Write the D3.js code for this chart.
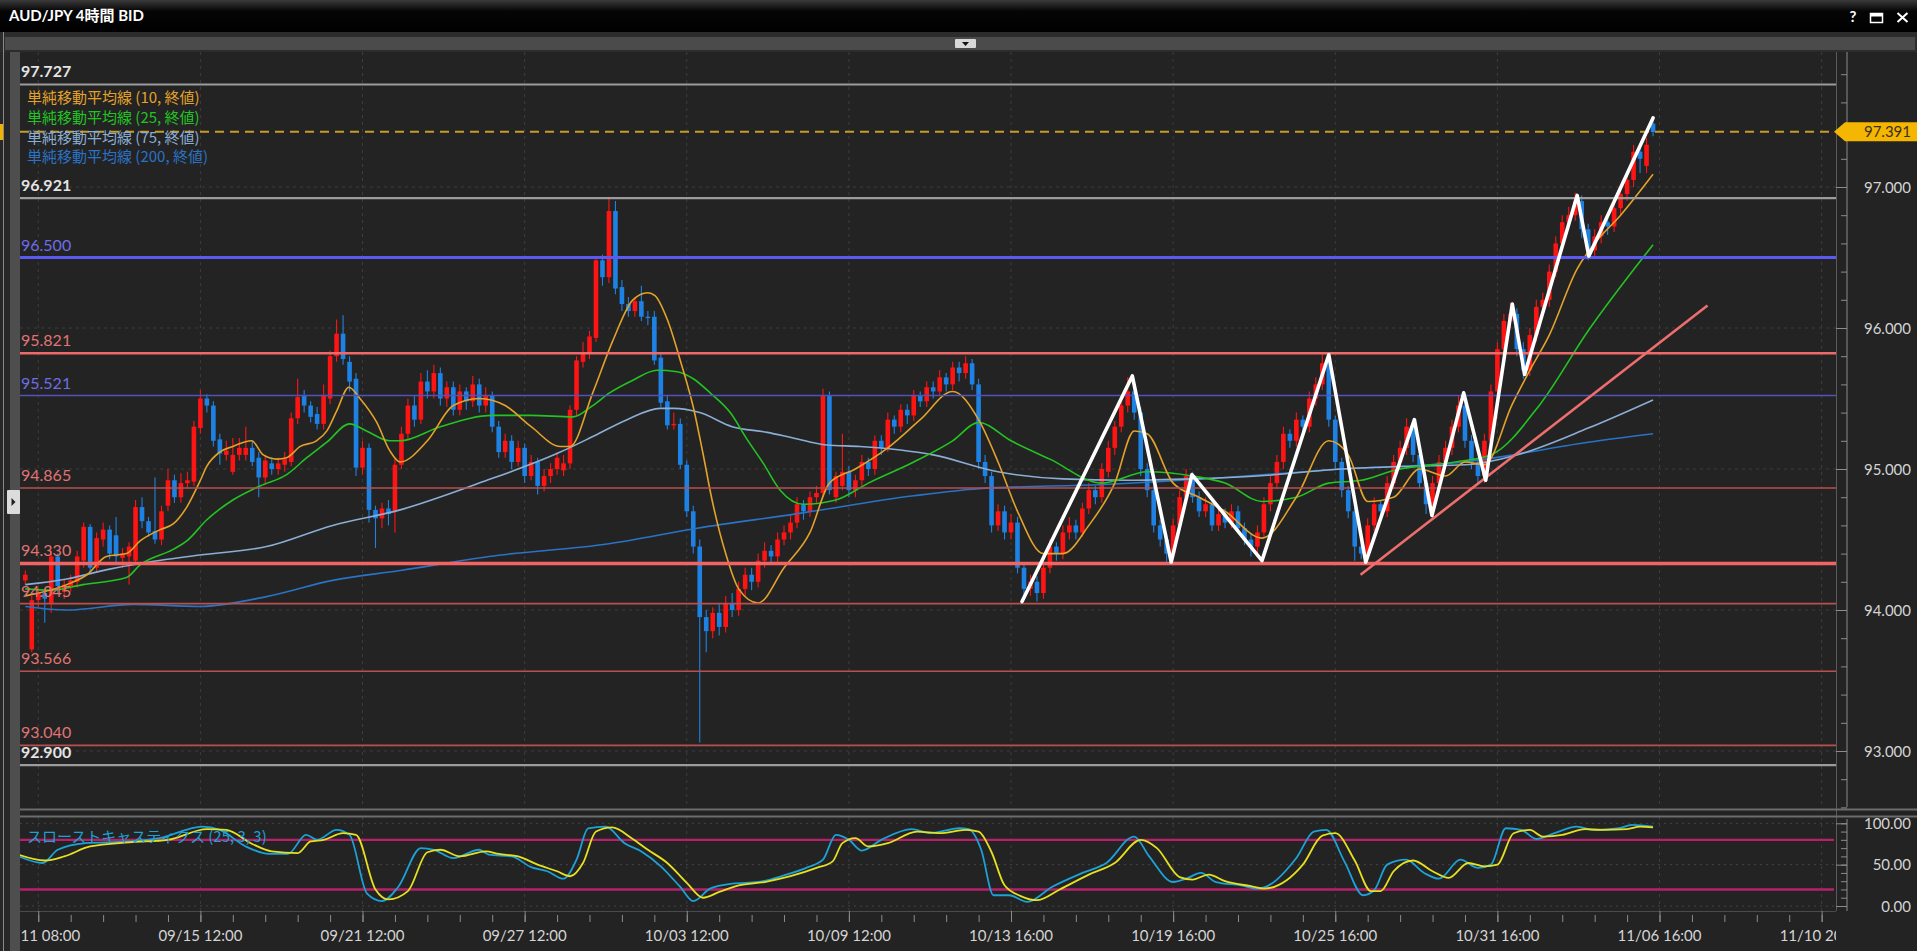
<!DOCTYPE html>
<html><head><meta charset="utf-8">
<script src="https://cdn.jsdelivr.net/npm/d3@7"></script>
<style>html,body{margin:0;padding:0;background:#222;overflow:hidden}</style>
</head><body><svg id="c" width="1917" height="951"></svg>
<script>
// ---------------- DATA ----------------
const title = "AUD/JPY 4時間 BID";
const opens = [94.21,93.72,94.07,94.12,94.05,94.38,94.13,94.17,94.20,94.35,94.59,94.30,94.50,94.57,94.53,94.37,94.38,94.35,94.73,94.63,94.56,94.50,94.74,94.92,94.80,94.90,94.91,95.29,95.50,95.45,95.21,95.10,94.98,95.10,95.10,95.15,95.08,94.94,95.04,95.00,95.03,95.05,95.36,95.52,95.45,95.39,95.32,95.50,95.80,95.96,95.76,95.64,95.01,95.15,94.71,94.65,94.72,94.70,95.03,95.25,95.45,95.35,95.62,95.55,95.68,95.50,95.58,95.42,95.55,95.48,95.60,95.45,95.52,95.30,95.12,95.20,95.05,95.15,94.95,95.05,94.88,94.95,95.00,94.99,95.04,95.42,95.76,95.82,95.93,96.48,96.36,96.83,96.29,96.17,96.12,96.19,96.08,96.08,95.79,95.48,95.31,95.32,95.03,94.70,94.45,93.95,93.85,93.98,93.88,94.05,94.00,94.15,94.25,94.20,94.35,94.42,94.38,94.50,94.55,94.62,94.75,94.70,94.80,94.83,95.52,94.80,94.88,94.98,94.85,94.92,95.05,95.00,95.20,95.15,95.35,95.30,95.42,95.38,95.52,95.48,95.58,95.55,95.65,95.60,95.72,95.68,95.75,95.60,95.05,94.95,94.60,94.70,94.55,94.62,94.30,94.15,94.20,94.12,94.30,94.45,94.40,94.55,94.60,94.55,94.72,94.85,94.80,94.98,95.15,95.30,95.45,95.55,95.40,95.00,94.85,94.60,94.50,94.40,94.60,94.80,94.95,94.80,94.70,94.75,94.60,94.68,94.62,94.70,94.58,94.50,94.45,94.55,94.75,94.90,95.05,95.25,95.20,95.35,95.30,95.50,95.60,95.75,95.35,95.05,94.85,94.70,94.45,94.40,94.60,94.75,94.70,94.90,95.05,95.15,95.30,95.10,94.90,94.75,94.90,95.05,95.15,95.30,95.45,95.20,95.05,94.95,95.20,95.55,95.85,96.05,96.10,95.85,95.70,95.95,96.15,96.20,96.40,96.60,96.75,96.80,96.90,96.70,96.55,96.65,96.75,96.72,96.85,96.95,97.05,97.25,97.15,97.45];
const highs = [94.28,94.10,94.16,94.14,94.42,94.40,94.22,94.25,94.42,94.62,94.61,94.55,94.62,94.60,94.66,94.44,94.48,94.78,94.80,94.66,94.94,94.74,95.00,94.96,94.97,94.98,95.34,95.56,95.53,95.48,95.25,95.20,95.22,95.22,95.30,95.20,95.12,95.10,95.08,95.08,95.12,95.40,95.64,95.56,95.48,95.44,95.60,95.84,96.06,96.09,95.80,95.68,95.20,95.18,94.74,94.76,94.78,95.08,95.30,95.50,95.52,95.68,95.70,95.74,95.72,95.62,95.62,95.60,95.58,95.66,95.64,95.58,95.55,95.34,95.25,95.24,95.20,95.18,95.10,95.08,95.00,95.04,95.12,95.10,95.45,95.80,95.90,95.98,96.50,96.52,96.92,96.90,96.34,96.22,96.22,96.30,96.12,96.12,95.82,95.52,95.40,95.36,95.06,94.74,94.50,94.00,94.02,94.04,94.10,94.12,94.20,94.30,94.30,94.40,94.48,94.46,94.55,94.60,94.68,94.80,94.78,94.84,94.88,95.57,95.55,94.98,95.25,95.02,94.96,95.10,95.08,95.24,95.24,95.40,95.38,95.46,95.46,95.56,95.55,95.62,95.62,95.70,95.68,95.76,95.76,95.80,95.78,95.64,95.10,94.98,94.75,94.74,94.68,94.66,94.34,94.25,94.24,94.35,94.50,94.48,94.60,94.66,94.64,94.76,94.90,94.88,95.04,95.20,95.34,95.50,95.65,95.60,95.44,95.04,94.88,94.64,94.54,94.65,94.85,95.00,94.98,94.84,94.80,94.78,94.72,94.72,94.75,94.74,94.62,94.54,94.60,94.80,94.95,95.10,95.30,95.28,95.40,95.38,95.55,95.65,95.82,95.78,95.38,95.08,94.88,94.74,94.50,94.65,94.80,94.78,94.95,95.10,95.20,95.36,95.34,95.14,94.94,94.95,95.10,95.20,95.35,95.52,95.48,95.24,95.08,95.25,95.60,95.90,96.10,96.18,96.14,95.90,96.00,96.20,96.25,96.45,96.65,96.80,96.86,96.96,96.94,96.74,96.70,96.80,96.80,96.90,97.00,97.10,97.30,97.30,97.35,97.48];
const lows = [94.18,93.70,94.02,93.91,93.98,94.12,94.08,94.13,94.16,94.30,94.26,94.27,94.45,94.36,94.33,94.30,94.18,94.32,94.58,94.52,94.47,94.46,94.70,94.76,94.76,94.86,94.88,95.25,95.40,95.16,95.03,95.06,94.96,95.06,95.06,95.02,94.80,94.90,94.96,94.96,94.98,95.02,95.32,95.40,95.33,95.28,95.28,95.46,95.76,95.74,95.55,94.95,94.96,94.62,94.44,94.58,94.60,94.55,95.00,95.20,95.30,95.32,95.50,95.50,95.45,95.44,95.38,95.38,95.42,95.44,95.40,95.40,95.26,95.08,95.08,95.00,95.02,94.90,94.92,94.82,94.84,94.90,94.96,94.95,95.00,95.38,95.72,95.78,95.90,96.30,96.32,96.24,96.12,96.08,96.08,96.05,96.02,95.74,95.44,95.28,95.28,95.00,94.66,94.40,93.06,93.70,93.80,93.82,93.84,93.95,93.96,94.10,94.14,94.16,94.30,94.32,94.34,94.46,94.50,94.58,94.64,94.66,94.76,94.80,94.82,94.76,94.85,94.80,94.80,94.88,94.95,94.96,95.10,95.12,95.25,95.26,95.32,95.34,95.44,95.44,95.50,95.52,95.55,95.56,95.62,95.64,95.56,95.00,94.90,94.55,94.56,94.50,94.50,94.26,94.08,94.10,94.06,94.08,94.26,94.35,94.36,94.50,94.50,94.52,94.68,94.75,94.76,94.94,95.10,95.26,95.40,95.35,94.95,94.80,94.55,94.45,94.33,94.36,94.56,94.76,94.76,94.66,94.66,94.56,94.56,94.58,94.58,94.54,94.46,94.38,94.40,94.52,94.70,94.86,95.00,95.15,95.16,95.25,95.26,95.45,95.56,95.30,95.00,94.80,94.65,94.35,94.36,94.36,94.56,94.64,94.66,94.86,95.00,95.10,95.05,94.86,94.68,94.70,94.86,95.00,95.10,95.26,95.15,95.00,94.90,94.90,95.16,95.50,95.80,96.00,95.80,95.64,95.66,95.90,96.10,96.15,96.36,96.55,96.70,96.76,96.64,96.48,96.50,96.60,96.66,96.68,96.80,96.90,97.00,97.10,97.10,97.36];
const closes = [94.25,94.07,94.12,94.08,94.38,94.17,94.18,94.21,94.38,94.59,94.30,94.51,94.57,94.40,94.38,94.40,94.45,94.73,94.63,94.55,94.50,94.70,94.92,94.80,94.90,94.92,95.30,95.50,95.45,95.20,95.11,95.13,95.10,95.15,95.15,95.05,94.94,95.06,95.00,95.04,95.07,95.36,95.51,95.45,95.37,95.32,95.52,95.80,95.96,95.78,95.62,95.01,95.15,94.71,94.65,94.72,94.68,95.03,95.25,95.45,95.35,95.62,95.55,95.68,95.50,95.58,95.42,95.55,95.48,95.60,95.45,95.52,95.30,95.12,95.20,95.05,95.15,94.95,95.05,94.88,94.95,95.00,95.08,95.04,95.42,95.77,95.82,95.94,96.48,96.36,96.83,96.28,96.17,96.12,96.19,96.08,96.07,95.77,95.47,95.31,95.32,95.03,94.70,94.45,93.95,93.85,93.98,93.88,94.05,94.00,94.15,94.25,94.20,94.35,94.42,94.38,94.50,94.55,94.62,94.75,94.70,94.80,94.83,95.52,94.85,94.95,94.98,94.85,94.92,95.05,95.00,95.20,95.15,95.35,95.30,95.42,95.38,95.52,95.48,95.58,95.55,95.65,95.60,95.72,95.68,95.75,95.60,95.05,94.95,94.60,94.70,94.55,94.62,94.30,94.15,94.20,94.12,94.30,94.45,94.40,94.55,94.60,94.55,94.72,94.85,94.80,95.00,95.15,95.30,95.45,95.55,95.40,95.00,94.85,94.60,94.50,94.40,94.60,94.80,94.95,94.80,94.70,94.75,94.60,94.68,94.62,94.70,94.58,94.50,94.45,94.55,94.75,94.90,95.05,95.25,95.20,95.35,95.30,95.50,95.60,95.75,95.35,95.05,94.85,94.70,94.45,94.40,94.60,94.75,94.70,94.90,95.05,95.15,95.30,95.10,94.90,94.75,94.90,95.05,95.15,95.30,95.45,95.20,95.05,94.95,95.20,95.55,95.85,96.05,96.10,95.85,95.70,95.95,96.15,96.20,96.40,96.60,96.75,96.80,96.90,96.70,96.55,96.65,96.75,96.72,96.85,96.95,97.05,97.25,97.20,97.30,97.39];

// moving averages as [candle index, price]
const ma10 = [[0,94.10],[6.4,94.18],[9.5,94.25],[12.5,94.38],[15.6,94.40],[17.7,94.49],[20.8,94.57],[22.8,94.61],[24.9,94.73],[26.9,94.91],[28,95.02],[30,95.12],[32,95.16],[34.9,95.20],[36.7,95.10],[38.8,95.07],[40.3,95.08],[42.4,95.16],[44.9,95.20],[46.5,95.27],[48,95.41],[49.9,95.58],[51.6,95.50],[54.2,95.33],[56.2,95.13],[57.8,95.05],[62,95.2],[66,95.45],[70,95.5],[74,95.45],[78,95.3],[82.5,95.16],[84,95.16],[87.5,95.54],[90.6,95.91],[93.7,96.2],[96,96.25],[97.1,96.23],[99,96.06],[101,95.77],[103,95.44],[104.5,95.11],[105.9,94.78],[108,94.4],[110,94.15],[113,94.05],[117,94.3],[121,94.55],[124,94.9],[128,95.0],[133,95.15],[138,95.35],[143,95.55],[147,95.35],[150,95.05],[153,94.7],[157,94.4],[160,94.4],[164,94.6],[168,94.9],[171,95.27],[173,95.25],[177,94.9],[181,94.8],[185,94.7],[190.7,94.51],[196,94.8],[201,95.2],[204,95.1],[207,94.77],[211,94.8],[215,95.0],[219,94.95],[222,95.05],[225,95.03],[229.3,95.46],[232,95.7],[235,95.95],[239.3,96.42],[242,96.6],[246,96.8],[251,97.09]];
const ma25 = [[0,94.15],[3.8,94.14],[8.9,94.18],[15.6,94.23],[17.7,94.32],[22.8,94.43],[24.9,94.49],[28,94.64],[32,94.78],[36.2,94.88],[40.3,94.96],[43.4,95.08],[46.5,95.19],[50,95.32],[52.6,95.27],[56.2,95.20],[57.8,95.20],[64,95.3],[72,95.38],[78,95.38],[84.5,95.37],[87.5,95.45],[90.1,95.54],[93.7,95.63],[97.4,95.70],[100.5,95.69],[103,95.64],[105.6,95.54],[108.7,95.40],[111.3,95.21],[113.8,95.04],[116.4,94.85],[120,94.75],[125,94.78],[130,94.9],[137,95.05],[143,95.2],[147,95.33],[152,95.2],[158,95.07],[166,94.9],[173,94.98],[180,94.95],[185,94.9],[190.7,94.77],[196,94.8],[201,94.9],[206,94.92],[211,94.99],[220.5,95.05],[226,95.1],[233.6,95.46],[241,95.98],[251,96.59]];
const ma75 = [[0,94.18],[6.4,94.22],[13,94.29],[17.7,94.33],[26.9,94.39],[37.2,94.45],[47.4,94.60],[57.8,94.71],[70,94.9],[82.5,95.12],[87.5,95.23],[92.8,95.35],[97.9,95.43],[100,95.43],[104,95.40],[109,95.30],[114.4,95.26],[118.4,95.22],[123.6,95.17],[128.7,95.16],[140,95.1],[150,94.98],[160,94.93],[170,94.92],[180,94.93],[190,94.95],[203,95.0],[214,95.02],[222,95.03],[230,95.1],[241,95.29],[251,95.49]];
const ma200 = [[0,94.025],[6.4,94.0],[16.7,94.04],[26.9,94.025],[37.2,94.095],[47.4,94.21],[57.8,94.28],[71.5,94.38],[90,94.47],[103.6,94.58],[118.6,94.68],[137,94.81],[147,94.86],[166,94.89],[185,94.94],[203,95.0],[222,95.05],[241,95.19],[251,95.25]];
const maNames = ["単純移動平均線 (10, 終値)","単純移動平均線 (25, 終値)","単純移動平均線 (75, 終値)","単純移動平均線 (200, 終値)"];

// slow stochastics (%K, %D) as [candle index, value]
const stochK = [[-1,60],[2.7,52],[5,68],[9.3,76],[16,78],[20.7,82],[27.3,96],[30,92],[34,72],[37.6,63],[40.5,63],[43.3,86],[45,80],[48,92],[50,86],[52.7,15],[55,6],[57.5,23],[61,70],[63,68],[66,58],[70,68],[71.5,62],[75,60],[78,47],[80.5,42],[83,33],[85,56],[86.8,94],[89.5,96],[92.4,76],[95,66],[98,48],[101,23],[103,6],[105.6,21],[109,27],[113,29],[117,37],[120.7,47],[123,56],[125,86],[127,80],[129,67],[132,80],[136.7,93],[139.6,88],[144,94],[145.5,93],[147.4,68],[149.3,13],[151.7,13],[154.5,5],[158.3,23],[163,40],[166.7,52],[171,84],[173.3,60],[177,29],[179,33],[181.3,40],[183.6,29],[187.5,25],[190,21],[196,58],[198.7,90],[200.6,92],[203.4,54],[206.3,13],[208,19],[210,50],[212.9,56],[215.7,40],[218,33],[221.3,56],[224,46],[226,50],[228.3,94],[230.7,92],[233,81],[235.8,88],[239.2,96],[242,92],[245.8,94],[247.7,98],[251,96]];
const stochD = [[-1,62],[3,55],[6,60],[10,72],[16,77],[22,80],[28,93],[31,92],[35,75],[38,66],[42,64],[44,78],[46,80],[49,88],[51,86],[54,20],[56,8],[59,18],[62,65],[64,68],[67,60],[71,66],[73,63],[76,60],[79,50],[82,42],[84,36],[86,52],[88,90],[90.5,95],[93.5,82],[96,68],[99,52],[102,28],[104.5,10],[107,17],[110,25],[114,29],[118,36],[122,46],[124.5,54],[126,76],[128,82],[130,72],[133,76],[137.5,90],[141,88],[145,92],[147,90],[149,65],[151,25],[153.5,12],[156,7],[159.5,20],[164,38],[168,52],[172,80],[174.5,70],[178,35],[180,32],[182.5,38],[185,30],[189,24],[191,21],[197,50],[200,85],[202,88],[205,55],[207.5,18],[209,18],[211,42],[214,55],[217,42],[219.5,34],[222.5,52],[225,48],[227,50],[229.5,88],[232,92],[234,84],[237,86],[240.5,93],[243,92],[247,93],[249,96],[251,95]];
const stochTitle = "スローストキャスティクス (25, 3, 3)";
const stochLevels = [80, 20];
const stochTicks = [0, 50, 100];

// horizontal reference levels
const levelVals = [97.727,96.921,96.500,95.821,95.521,94.865,94.330,94.045,93.566,93.040,92.900];
const levelKinds = ["gray","gray","blueThick","red","blue","redThin","redThick","redThin","redThin","redThin","gray"];
const currentPrice = 97.391;

// drawn annotations [candle index, price]
const zigzag = [[153.7,94.06],[170.7,95.66],[176.7,94.34],[179.9,94.96],[190.7,94.35],[201,95.81],[206.7,94.34],[214.2,95.35],[216.9,94.67],[221.8,95.54],[225.2,94.92],[229.3,96.17],[231.2,95.67],[239.3,96.94],[241.1,96.51],[251,97.49]];
const trendLine = [[205.9,94.25],[259.4,96.16]];

// time axis
const timeTickIdx = [2,27,52,77,102,127,152,177,202,227,252,277];
const timeLabels = ["09/11 08:00","09/15 12:00","09/21 12:00","09/27 12:00","10/03 12:00","10/09 12:00","10/13 16:00","10/19 16:00","10/25 16:00","10/31 16:00","11/06 16:00","11/10 20:00"];
const priceTicks = [93,94,95,96,97];

// ---------------- LAYOUT / STYLE ----------------
const W = 1917, H = 951;
const PL = 20, PR = 1836, PT = 52, PB = 809;
const ST = 817, SB = 911;
const AX = 1847;
const NUM = "Lato, 'Noto Sans', sans-serif";
const JP = "'Noto Sans CJK JP', 'Noto Sans', sans-serif";
const levelStyle = {
  gray:{stroke:"#9c9c9c", w:2.2, text:"#e4e4e4", weight:700},
  blueThick:{stroke:"#5a5af2", w:3.2, text:"#6e6ee6", weight:400},
  blue:{stroke:"#5252bc", w:1.6, text:"#6e6ee6", weight:400},
  red:{stroke:"#ee6a6a", w:2.4, text:"#e07474", weight:400},
  redThick:{stroke:"#f26464", w:3.6, text:"#e07474", weight:400},
  redThin:{stroke:"#b85050", w:1.6, text:"#e07474", weight:400}
};
const maColors = ["#e3a22a","#22c322","#8aaed4","#2a72c4"];
const upColor = "#ff1414", downColor = "#1e82e4";

const x = d3.scaleLinear().domain([0, 277]).range([25.3, 25.3 + 6.485*277]);
const y = d3.scaleLinear().domain([93, 97]).range([751, 187]);
const ys = d3.scaleLinear().domain([0, 100]).range([906, 823.3]);

const svg = d3.select("#c");
const defs = svg.append("defs");
const g1 = defs.append("linearGradient").attr("id","tb").attr("x1",0).attr("y1",0).attr("x2",0).attr("y2",1);
g1.append("stop").attr("offset","0").attr("stop-color","#3a3a3a");
g1.append("stop").attr("offset","0.35").attr("stop-color","#050505");
g1.append("stop").attr("offset","1").attr("stop-color","#000");
defs.append("clipPath").attr("id","cm").append("rect").attr("x",PL).attr("y",PT).attr("width",PR-PL).attr("height",PB-PT);
defs.append("clipPath").attr("id","cs").append("rect").attr("x",PL).attr("y",ST).attr("width",PR-PL).attr("height",SB-ST);
defs.append("clipPath").attr("id","ct").append("rect").attr("x",PL).attr("y",SB).attr("width",PR-PL).attr("height",H-SB);

// backgrounds
svg.append("rect").attr("width",W).attr("height",H).attr("fill","#232323");
svg.append("rect").attr("width",W).attr("height",32).attr("fill","url(#tb)");
svg.append("rect").attr("x",0).attr("y",32).attr("width",W).attr("height",20).attr("fill","#2c2c2c");
svg.append("rect").attr("x",5).attr("y",37).attr("width",W-7).attr("height",13).attr("fill","#4b4b4b");
svg.append("rect").attr("x",955).attr("y",39).attr("width",21).attr("height",9).attr("fill","#d8d8d8").attr("rx",1);
svg.append("path").attr("d","M962,42 L969,42 L965.5,46 Z").attr("fill","#111");
svg.append("rect").attr("x",0).attr("y",52).attr("width",PL).attr("height",H-52).attr("fill","#272727");
svg.append("rect").attr("x",10).attr("y",52).attr("width",10).attr("height",H-52).attr("fill","#4e4e4e");
svg.append("line").attr("x1",3.5).attr("x2",3.5).attr("y1",32).attr("y2",H).attr("stroke","#8a8a8a").attr("stroke-width",1);
svg.append("rect").attr("x",0).attr("y",124).attr("width",3).attr("height",16).attr("fill","#f0b400");
svg.append("rect").attr("x",7).attr("y",490).attr("width",13).attr("height",24).attr("fill","#dcdcdc").attr("rx",1);
svg.append("path").attr("d","M11.5,498 L15.5,502 L11.5,506 Z").attr("fill","#222");
svg.append("rect").attr("x",PL).attr("y",PT).attr("width",PR-PL).attr("height",PB-PT).attr("fill","#232323");

// title bar
svg.append("text").attr("x",9).attr("y",21).attr("fill","#fff").attr("font-family",NUM+", 'Noto Sans CJK JP'").attr("font-weight",700).attr("font-size",15).text(title);
svg.append("text").attr("x",1853).attr("y",22).attr("text-anchor","middle").attr("fill","#fff").attr("font-family",NUM).attr("font-weight",700).attr("font-size",15).text("?");
svg.append("rect").attr("x",1870.5).attr("y",13.5).attr("width",12).attr("height",9).attr("fill","none").attr("stroke","#fff").attr("stroke-width",1.5);
svg.append("rect").attr("x",1870.5).attr("y",13.5).attr("width",12).attr("height",3).attr("fill","#fff");
svg.append("path").attr("d","M1897.5,13 L1907.5,22 M1907.5,13 L1897.5,22").attr("stroke","#fff").attr("stroke-width",2);

// grids
const gridM = svg.append("g").attr("clip-path","url(#cm)");
gridM.selectAll("line.v").data(timeTickIdx).join("line").attr("x1",d=>x(d)).attr("x2",d=>x(d)).attr("y1",PT).attr("y2",PB)
  .attr("stroke","#3d3d3d").attr("stroke-dasharray","3,4");
gridM.selectAll("line.h").data(priceTicks).join("line").attr("class","h").attr("x1",PL).attr("x2",PR).attr("y1",d=>y(d)).attr("y2",d=>y(d))
  .attr("stroke","#3d3d3d").attr("stroke-dasharray","3,4");
const gridS = svg.append("g").attr("clip-path","url(#cs)");
gridS.selectAll("line.v").data(timeTickIdx).join("line").attr("x1",d=>x(d)).attr("x2",d=>x(d)).attr("y1",ST).attr("y2",SB)
  .attr("stroke","#3d3d3d").attr("stroke-dasharray","3,4");
gridS.selectAll("line.h").data(stochTicks).join("line").attr("class","h").attr("x1",PL).attr("x2",PR).attr("y1",d=>ys(d)).attr("y2",d=>ys(d))
  .attr("stroke","#444").attr("stroke-dasharray","2,4");

// candles
const main = svg.append("g").attr("clip-path","url(#cm)");
const idx = d3.range(closes.length);
const cg = main.append("g");
cg.selectAll("line").data(idx).join("line")
  .attr("x1",i=>x(i)).attr("x2",i=>x(i)).attr("y1",i=>y(highs[i])).attr("y2",i=>y(lows[i]))
  .attr("stroke",i=>closes[i]>=opens[i]?upColor:downColor).attr("stroke-width",1.1);
cg.selectAll("rect").data(idx).join("rect")
  .attr("x",i=>x(i)-2.3).attr("width",4.6)
  .attr("y",i=>y(Math.max(opens[i],closes[i])))
  .attr("height",i=>Math.max(1.2, Math.abs(y(opens[i])-y(closes[i]))))
  .attr("fill",i=>closes[i]>=opens[i]?upColor:downColor);

// moving averages
const line = d3.line().x(d=>x(d[0])).y(d=>y(d[1])).curve(d3.curveMonotoneX);
[ma200, ma75, ma25, ma10].forEach((s,k)=>{
  main.append("path").attr("d",line(s)).attr("fill","none").attr("stroke",maColors[3-k]).attr("stroke-width",1.6);
});

// levels
levelVals.forEach((v,k)=>{
  const st = levelStyle[levelKinds[k]];
  main.append("line").attr("x1",PL).attr("x2",PR).attr("y1",y(v)).attr("y2",y(v)).attr("stroke",st.stroke).attr("stroke-width",st.w);
  svg.append("text").attr("x",21).attr("y",y(v)-7).attr("fill",st.text).attr("font-family",NUM).attr("font-weight",st.weight)
    .attr("font-size",16).text(v.toFixed(3));
});
// current price line
main.append("line").attr("x1",PL).attr("x2",1834).attr("y1",y(currentPrice)).attr("y2",y(currentPrice))
  .attr("stroke","#c99a2c").attr("stroke-width",2).attr("stroke-dasharray","9,6");

// annotations
main.append("path").attr("d",d3.line().x(d=>x(d[0])).y(d=>y(d[1]))(trendLine)).attr("stroke","#ee6e6e").attr("stroke-width",2.6).attr("fill","none");
main.append("path").attr("d",d3.line().x(d=>x(d[0])).y(d=>y(d[1]))(zigzag)).attr("stroke","#fff").attr("stroke-width",3.6)
  .attr("fill","none").attr("stroke-linejoin","round").attr("stroke-linecap","round");

// legend
maNames.forEach((n,k)=>{
  svg.append("text").attr("x",27).attr("y",103+k*19.8).attr("fill",maColors[k]).attr("font-family",JP).attr("font-size",15).text(n);
});

// panel borders
svg.append("line").attr("x1",PR+0.5).attr("x2",PR+0.5).attr("y1",PT).attr("y2",SB).attr("stroke","#5a5a5a");
svg.append("line").attr("x1",PL).attr("x2",W).attr("y1",PB+0.5).attr("y2",PB+0.5).attr("stroke","#6c6c6c").attr("stroke-width",2);
svg.append("line").attr("x1",PL).attr("x2",W).attr("y1",ST-0.5).attr("y2",ST-0.5).attr("stroke","#6c6c6c").attr("stroke-width",2);
svg.append("line").attr("x1",PL).attr("x2",PR).attr("y1",SB+0.5).attr("y2",SB+0.5).attr("stroke","#4a4a4a").attr("stroke-width",1);

// right price axis
const minorP = d3.range(463, 490).map(k=>k/5);
const axM = svg.append("g").attr("transform",`translate(${AX},0)`);
axM.call(d3.axisLeft(y).tickValues(minorP).tickSize(6).tickFormat(""));
axM.call(g=>g.select(".domain").remove());
axM.append("line").attr("x1",0).attr("x2",0).attr("y1",PT).attr("y2",PB-2).attr("stroke","#8c8c8c");
axM.selectAll(".tick line").attr("stroke","#8c8c8c");
const axM2 = svg.append("g").attr("transform",`translate(${AX},0)`);
axM2.call(d3.axisLeft(y).tickValues(priceTicks).tickSize(11).tickFormat(""));
axM2.call(g=>g.select(".domain").remove());
axM2.selectAll(".tick line").attr("stroke","#8c8c8c");
svg.selectAll("text.pl").data(priceTicks).join("text").attr("class","pl").attr("x",1911).attr("y",d=>y(d)+5.5)
  .attr("text-anchor","end").attr("fill","#d4d4d4").attr("font-family",NUM).attr("font-size",15).text(d=>d.toFixed(3));

// current price tag
const cy = y(currentPrice);
svg.append("path").attr("d",`M1834,${cy} L1845,${cy-9.5} L1917,${cy-9.5} L1917,${cy+9.5} L1845,${cy+9.5} Z`).attr("fill","#f5b602");
svg.append("text").attr("x",1911).attr("y",cy+5.5).attr("text-anchor","end").attr("fill","#3a3020").attr("font-family",NUM).attr("font-size",15).text(currentPrice.toFixed(3));

// stochastics
const sg = svg.append("g").attr("clip-path","url(#cs)");
stochLevels.forEach(v=>{
  sg.append("line").attr("x1",PL).attr("x2",PR-2).attr("y1",ys(v)).attr("y2",ys(v)).attr("stroke","#b8206c").attr("stroke-width",2.4);
});
const sline = d3.line().x(d=>x(d[0])).y(d=>ys(d[1])).curve(d3.curveMonotoneX);
sg.append("path").attr("d",sline(stochK)).attr("fill","none").attr("stroke","#1ca2d6").attr("stroke-width",1.8);
sg.append("path").attr("d",sline(stochD)).attr("fill","none").attr("stroke","#e6e020").attr("stroke-width",1.8);
svg.append("text").attr("x",27).attr("y",842).attr("fill","#1f9fd4").attr("font-family",JP).attr("font-size",15).text(stochTitle);

const axS = svg.append("g").attr("transform",`translate(${AX},0)`);
axS.call(d3.axisLeft(ys).tickValues(d3.range(0,101,10)).tickSize(6).tickFormat(""));
axS.call(g=>g.select(".domain").remove());
axS.append("line").attr("x1",0).attr("x2",0).attr("y1",ST+2).attr("y2",SB).attr("stroke","#8c8c8c");
axS.selectAll(".tick line").attr("stroke","#8c8c8c");
const axS2 = svg.append("g").attr("transform",`translate(${AX},0)`);
axS2.call(d3.axisLeft(ys).tickValues(stochTicks).tickSize(11).tickFormat(""));
axS2.call(g=>g.select(".domain").remove());
axS2.selectAll(".tick line").attr("stroke","#8c8c8c");
svg.selectAll("text.sl").data(stochTicks).join("text").attr("class","sl").attr("x",1911).attr("y",d=>ys(d)+5.5)
  .attr("text-anchor","end").attr("fill","#d4d4d4").attr("font-family",NUM).attr("font-size",15).text(d=>d.toFixed(2));

// time axis
const tg = svg.append("g").attr("clip-path","url(#ct)");
const minorT = d3.range(2, 278, 5);
const axT = tg.append("g").attr("transform",`translate(0,922)`);
axT.call(d3.axisTop(x).tickValues(minorT).tickSize(7).tickFormat(""));
axT.call(g=>g.select(".domain").remove());
axT.selectAll(".tick line").attr("stroke","#8c8c8c");
const axT2 = tg.append("g").attr("transform",`translate(0,922)`);
axT2.call(d3.axisTop(x).tickValues(timeTickIdx).tickSize(11).tickFormat(""));
axT2.call(g=>g.select(".domain").remove());
axT2.selectAll(".tick line").attr("stroke","#8c8c8c");
tg.selectAll("text.tl").data(timeTickIdx).join("text").attr("class","tl").attr("x",d=>x(d)).attr("y",941)
  .attr("text-anchor","middle").attr("fill","#d4d4d4").attr("font-family",NUM).attr("font-size",15).text((d,k)=>timeLabels[k]);
</script></body></html>
